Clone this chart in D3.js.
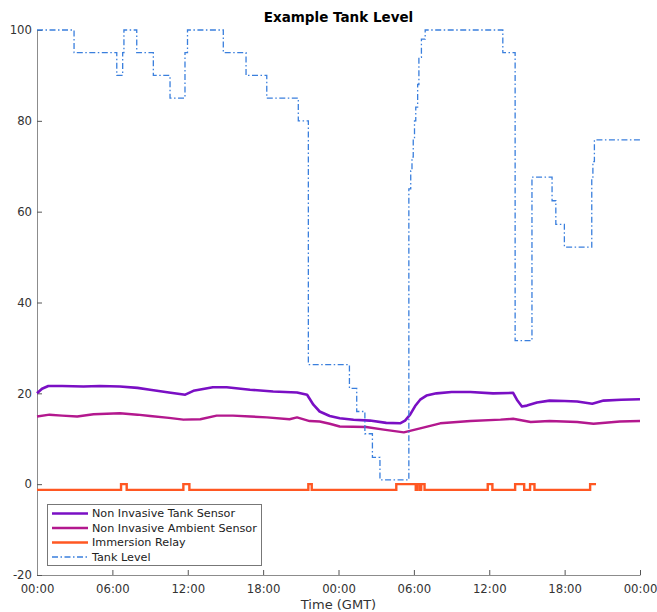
<!DOCTYPE html>
<html>
<head>
<meta charset="utf-8">
<script src="https://cdn.jsdelivr.net/npm/d3@7"></script>
<style>
  html, body { margin: 0; padding: 0; background: #fff; }
  svg { display: block; font-family: "DejaVu Sans", sans-serif; }
</style>
</head>
<body>
<svg id="chart" width="657" height="612"></svg>
<script>
// Time is in hours from the start of the first day (GMT)
const xTicks = [0, 6, 12, 18, 24, 30, 36, 42, 48];
const xTickLabels = ["00:00", "06:00", "12:00", "18:00", "00:00", "06:00", "12:00", "18:00", "00:00"];
const yTicks = [-20, 0, 20, 40, 60, 80, 100];

const seriesNames = ["Non Invasive Tank Sensor", "Non Invasive Ambient Sensor", "Immersion Relay", "Tank Level"];

// Non invasive tank sensor temperature [hour, value]
const tankSensor = [
  [0, 20.0], [0.4, 21.0], [0.9, 21.6], [2.0, 21.6], [3.7, 21.5], [5.0, 21.6], [6.6, 21.5],
  [8.0, 21.2], [9.0, 20.8], [10.5, 20.2], [11.8, 19.7], [12.45, 20.55], [14.0, 21.35],
  [15.1, 21.35], [16.96, 20.8], [18.8, 20.4], [20.7, 20.2], [21.5, 19.7], [21.75, 18.6],
  [22.0, 17.5], [22.5, 16.0], [23.3, 15.0], [24.1, 14.5], [25.2, 14.2], [26.5, 14.0],
  [27.8, 13.5], [28.9, 13.4], [29.3, 14.0], [29.7, 15.3], [30.1, 17.2], [30.5, 18.6],
  [31.0, 19.5], [31.8, 20.0], [33.0, 20.3], [34.5, 20.3], [36.3, 20.0], [37.9, 20.1],
  [38.2, 18.6], [38.6, 17.1], [39.0, 17.3], [39.8, 18.0], [40.8, 18.4], [42.0, 18.3],
  [43.0, 18.2], [44.2, 17.7], [45.1, 18.4], [46.5, 18.6], [48.0, 18.7]
];

// Non invasive ambient sensor temperature [hour, value]
const ambientSensor = [
  [0, 14.9], [1.0, 15.3], [2.0, 15.1], [3.2, 14.9], [4.5, 15.4], [6.6, 15.6], [8.0, 15.3],
  [9.0, 15.0], [10.5, 14.6], [11.65, 14.2], [13.0, 14.3], [14.3, 15.1], [15.6, 15.1],
  [17.0, 14.9], [18.3, 14.7], [20.1, 14.3], [20.7, 14.7], [21.7, 13.9], [22.5, 13.8],
  [23.3, 13.3], [24.1, 12.7], [26.2, 12.6], [27.6, 12.0], [29.2, 11.4], [30.5, 12.3],
  [32.1, 13.4], [34.5, 13.9], [36.9, 14.2], [37.9, 14.4], [39.3, 13.7], [40.8, 13.9],
  [43.0, 13.7], [44.3, 13.3], [46.4, 13.8], [48.0, 13.9]
];

// Immersion relay state: hour at which the level changes, and the level from then on
const relay = [
  [0, -1.25], [6.69, 0], [7.14, -1.25], [11.65, 0], [12.13, -1.25], [21.6, 0], [21.87, -1.25],
  [28.6, 0], [30.15, -1.25], [30.25, 0], [30.45, -1.25], [30.58, 0], [30.85, -1.25],
  [35.88, 0], [36.25, -1.25], [38.06, 0], [38.78, -1.25], [39.25, 0], [39.6, -1.25],
  [44.03, 0], [44.5, 0]
];

// Tank level (%): hour at which the level changes, and the level from then on
const tankLevel = [
  [0, 100], [2.95, 95], [6.35, 90], [6.82, 95], [6.92, 100], [7.94, 95], [9.26, 90],
  [10.59, 85], [11.78, 95], [11.98, 100], [14.83, 95], [16.64, 90], [18.29, 85],
  [20.8, 80], [21.6, 26.3], [24.87, 21.1], [25.45, 16.0], [26.1, 11.1], [26.7, 5.9],
  [27.3, 0.95], [29.6, 65], [29.75, 69], [29.85, 72], [29.95, 76], [30.05, 80],
  [30.15, 83], [30.3, 88], [30.4, 94], [30.6, 98], [30.9, 100], [37.08, 95],
  [38.06, 31.6], [39.4, 67.6], [41.0, 62.4], [41.3, 57.2], [41.98, 52.2], [44.16, 67],
  [44.25, 71], [44.37, 75.8], [48.0, 75.8]
];

const colors = {
  tank: "#7a0fc4",
  ambient: "#b3188e",
  relay: "#ff5722",
  level: "#3a7fdd"
};

const svg = d3.select("#chart");
const margin = { left: 37, right: 17, top: 30, bottom: 37 };
const W = 657, H = 612;

const x = d3.scaleLinear().domain([0, 48]).range([margin.left, W - margin.right]);
const y = d3.scaleLinear().domain([-20, 100]).range([H - margin.bottom, margin.top]);

// Title
svg.append("text")
  .attr("x", (x(0) + x(48)) / 2)
  .attr("y", 22)
  .attr("text-anchor", "middle")
  .attr("font-weight", "bold")
  .attr("font-size", 13.5)
  .attr("fill", "#000")
  .text("Example Tank Level");

// Axes
const xAxis = d3.axisBottom(x)
  .tickValues(xTicks)
  .tickFormat((d, i) => xTickLabels[i])
  .tickSizeInner(-5)
  .tickSizeOuter(0)
  .tickPadding(10);

const yAxis = d3.axisLeft(y)
  .tickValues(yTicks)
  .tickFormat(d => String(d))
  .tickSizeInner(-5)
  .tickSizeOuter(0)
  .tickPadding(5);

const gx = svg.append("g")
  .attr("transform", `translate(0,${y(-20)})`)
  .call(xAxis);
const gy = svg.append("g")
  .attr("transform", `translate(${x(0)},0)`)
  .call(yAxis);

[gx, gy].forEach(g => {
  g.selectAll(".domain").attr("stroke", "#8c8c8c").attr("stroke-width", 1);
  g.selectAll(".tick line").attr("stroke", "#555").attr("stroke-width", 1);
  g.selectAll(".tick text").attr("fill", "#333").attr("font-size", 11.7)
    .attr("font-family", "DejaVu Sans, sans-serif");
});

// Axis label
svg.append("text")
  .attr("x", (x(0) + x(48)) / 2)
  .attr("y", 609)
  .attr("text-anchor", "middle")
  .attr("font-size", 13)
  .attr("fill", "#333")
  .text("Time (GMT)");

// Series
const lineLinear = d3.line().x(d => x(d[0])).y(d => y(d[1]));
const lineStep = d3.line().x(d => x(d[0])).y(d => y(d[1])).curve(d3.curveStepAfter);

const plot = svg.append("g");

plot.append("path").datum(tankSensor)
  .attr("d", lineLinear).attr("fill", "none")
  .attr("stroke", colors.tank).attr("stroke-width", 2.6)
  .attr("stroke-linejoin", "round");

plot.append("path").datum(ambientSensor)
  .attr("d", lineLinear).attr("fill", "none")
  .attr("stroke", colors.ambient).attr("stroke-width", 2.4)
  .attr("stroke-linejoin", "round");

plot.append("path").datum(relay)
  .attr("d", lineStep).attr("fill", "none")
  .attr("stroke", colors.relay).attr("stroke-width", 2.4);

plot.append("path").datum(tankLevel)
  .attr("d", lineStep).attr("fill", "none")
  .attr("stroke", colors.level).attr("stroke-width", 1.3)
  .attr("stroke-dasharray", "6,2.5,1.5,2.5");

// Legend
const legend = svg.append("g").attr("transform", "translate(47,504)");
legend.append("rect")
  .attr("x", 0.5).attr("y", 0.5)
  .attr("width", 214).attr("height", 61)
  .attr("fill", "#fff").attr("stroke", "#777").attr("stroke-width", 1);

const legendStyles = [
  { color: colors.tank, width: 2.6, dash: null },
  { color: colors.ambient, width: 2.4, dash: null },
  { color: colors.relay, width: 2.4, dash: null },
  { color: colors.level, width: 1.3, dash: "6,2.5,1.5,2.5" }
];

seriesNames.forEach((name, i) => {
  const cy = 9.5 + i * 14.5;
  const ln = legend.append("line")
    .attr("x1", 5).attr("x2", 41)
    .attr("y1", cy).attr("y2", cy)
    .attr("stroke", legendStyles[i].color)
    .attr("stroke-width", legendStyles[i].width);
  if (legendStyles[i].dash) ln.attr("stroke-dasharray", legendStyles[i].dash);
  legend.append("text")
    .attr("x", 45).attr("y", cy)
    .attr("dy", "0.35em")
    .attr("font-size", 11.2)
    .attr("fill", "#222")
    .text(name);
});
</script>
</body>
</html>
